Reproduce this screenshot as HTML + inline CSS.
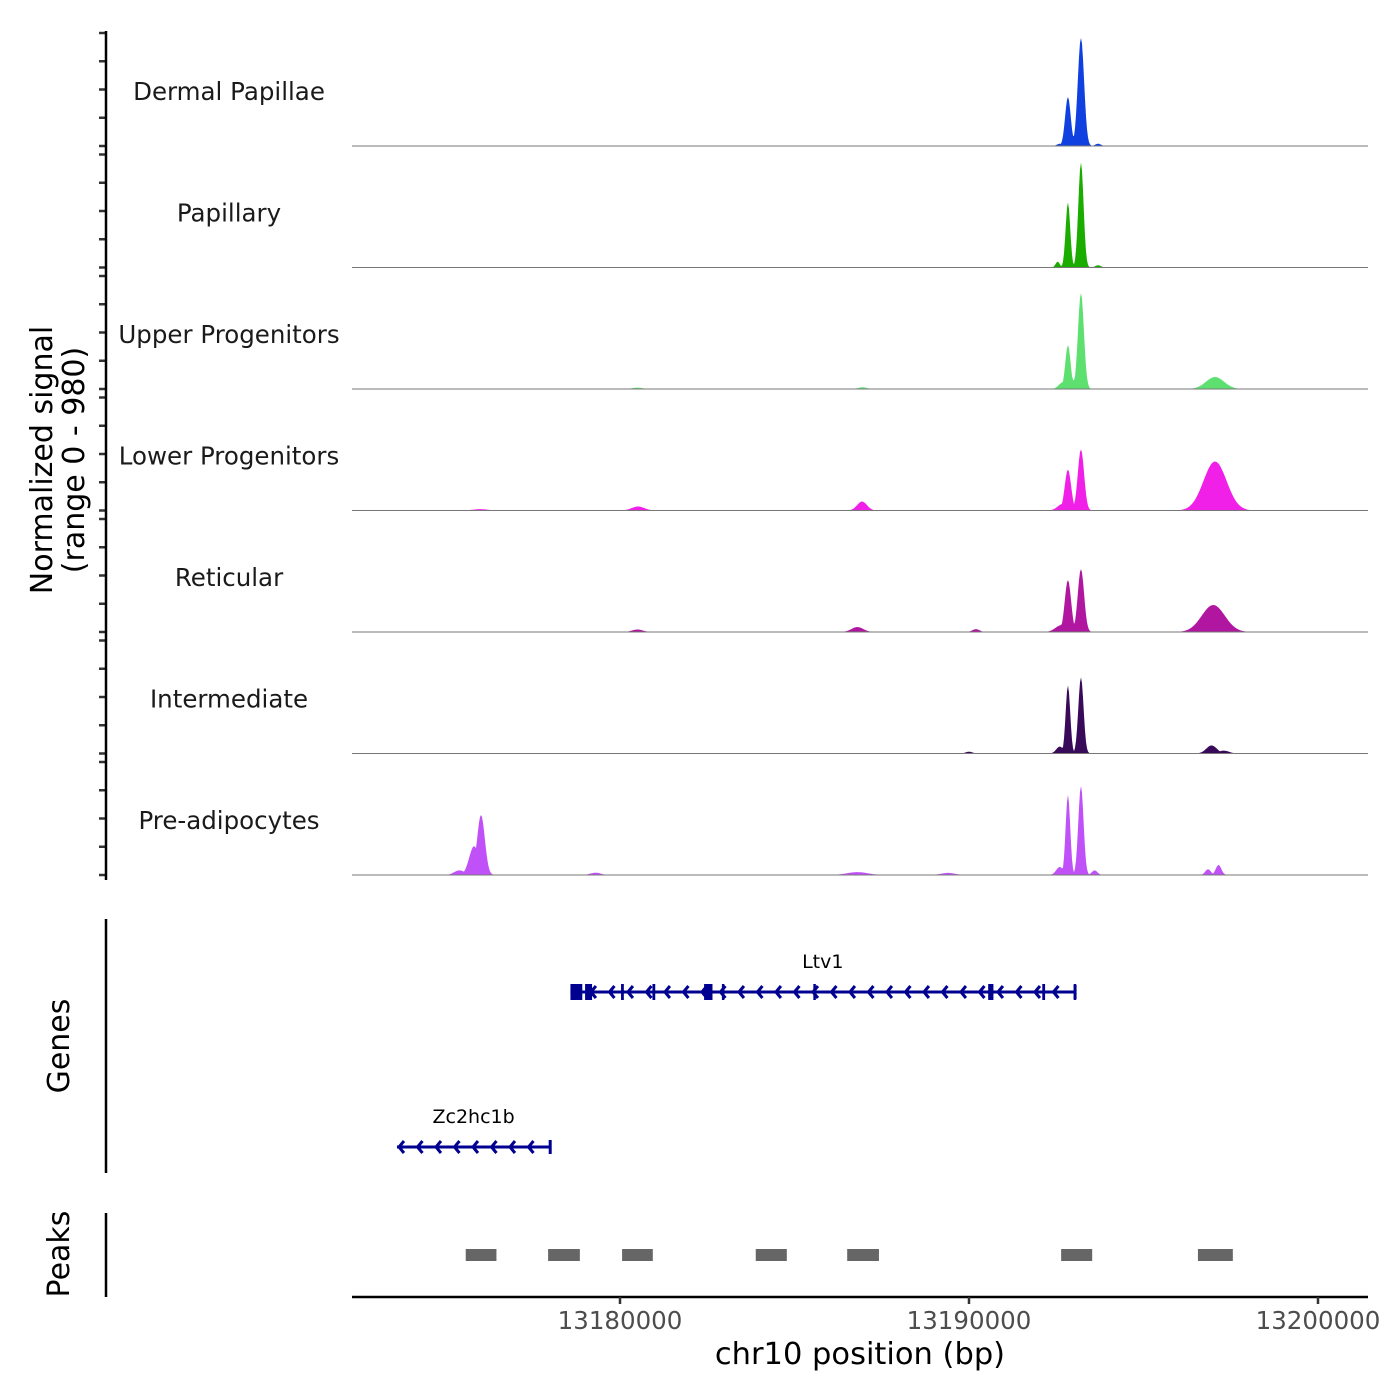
<!DOCTYPE html>
<html><head><meta charset="utf-8">
<style>
html,body{margin:0;padding:0;background:#fff;}
svg{display:block;font-family:"DejaVu Sans","Liberation Sans",sans-serif;}
</style></head>
<body>
<svg id="chart" width="1400" height="1400" viewBox="0 0 1400 1400" xmlns="http://www.w3.org/2000/svg"></svg>
<script>
// ---- data ----
const trackNames = ["Dermal Papillae","Papillary","Upper Progenitors","Lower Progenitors","Reticular","Intermediate","Pre-adipocytes"];
const trackColors = ["#1040e0","#1aad00","#5ee070","#f020e8","#b0169f","#3a0a5a","#c050f8"];
// peaks per track: [position bp, value, width bp]
const peaksDP = [[13192835,425,80],[13193208,937,90],[13192600,20,80],[13193700,20,80],[13192980,90,100]];
const peaksPap = [[13192835,564,65],[13193208,910,75],[13192540,50,60],[13193700,20,80]];
const peaksUpper = [[13192835,380,75],[13193208,832,85],[13192980,80,100],[13192700,60,120],[13197050,104,260],[13186950,15,120],[13180500,12,150]];
const peaksLower = [[13192835,355,90],[13193208,530,90],[13192700,60,150],[13197050,425,330],[13196700,140,200],[13186935,78,140],[13180516,35,180],[13176000,12,200]];
const peaksRet = [[13192835,450,90],[13193208,546,90],[13192650,60,170],[13197000,234,330],[13186800,43,170],[13180500,22,150],[13190200,25,100]];
const peaksInter = [[13192835,590,65],[13193208,660,75],[13192600,60,100],[13196950,70,150],[13197300,25,150],[13190000,15,100]];
const peaksPre = [[13192835,694,65],[13193208,772,75],[13192600,70,100],[13193600,40,80],[13176017,520,110],[13175820,250,140],[13175400,40,150],[13197150,87,80],[13196850,50,80],[13186800,25,300],[13189400,18,200],[13179300,20,150]];
const trackPeaks = [peaksDP,peaksPap,peaksUpper,peaksLower,peaksRet,peaksInter,peaksPre];
const xTicks = [13180000,13190000,13200000];
const yTickVals = [0,245,490,735,980];
const geneNames = ["Ltv1","Zc2hc1b"];
const geneStarts = [13178580,13173610];
const geneEnds = [13193040,13178000];
const geneRows = [0,1];
const ltv1Exons = [[13178580,13178920],[13179000,13179200],[13180030,13180110],[13180930,13181010],[13182410,13182650],[13182920,13182990],[13185540,13185580],[13190550,13190700],[13192100,13192180],[13193000,13193040]];
const peakStarts = [13175580,13177940,13180060,13183890,13186510,13192640,13196560];
const peakEnds = [13176460,13178850,13180940,13184780,13187420,13193530,13197560];
// ---- scales ----
const X0=352,X1=1368,BP0=13172321,BP1=13201433;
const xs = bp => X0 + (bp-BP0)/(BP1-BP0)*(X1-X0);
const baseY = i => 146 + 121.5*i;
const ys = (v,i) => baseY(i) - v/980*113;
const svg=document.getElementById('chart');
const NS="http://www.w3.org/2000/svg";
function mk(tag,attrs,parent){const e=document.createElementNS(NS,tag);for(const k in attrs)e.setAttribute(k,attrs[k]);(parent||svg).appendChild(e);return e;}
// tracks
trackNames.forEach((name,i)=>{
  const g=mk('g',{});
  
  
  const pts=[];
  for(let x=X0;x<=X1;x+=1){
    const bp=BP0+(x-X0)/(X1-X0)*(BP1-BP0);
    let v=0;
    trackPeaks[i].forEach(p=>{const d=(bp-p[0])/p[2];v=Math.max(v,p[1]*Math.exp(-0.5*d*d));});
    pts.push(x.toFixed(1)+','+ys(v,i).toFixed(1));
  }
  const area=mk('path',{d:'M'+X0+','+baseY(i)+' L'+pts.join(' L')+' L'+X1+','+baseY(i)+' Z',fill:trackColors[i]},g);
  
  
  const bl=mk('line',{x1:X0,x2:X1,y1:baseY(i),y2:baseY(i),stroke:'#777','stroke-width':1},g);
  
  
  const t=mk('text',{x:229,y:baseY(i)-46,'text-anchor':'middle','font-size':24.5,fill:'#1a1a1a'},g);
  t.textContent=name;
  
  
  yTickVals.forEach(v=>{
    const tk=mk('line',{x1:99,x2:106,y1:ys(v,i),y2:ys(v,i),stroke:'#333','stroke-width':2.5},g);
    
    
  });
});
// left axis lines
[[31,880,'signal-axis-line'],[919,1173,'genes-axis-line'],[1213,1297,'peaks-axis-line']].forEach(a=>{
  const l=mk('line',{x1:106,x2:106,y1:a[0],y2:a[1],stroke:'#000','stroke-width':2.5});
  
  
});
// genes
const gcol='#000091';
geneNames.forEach((n,gi)=>{
  const y=992+155*geneRows[gi];
  const g=mk('g',{});
  
  
  const x1=xs(geneStarts[gi]),x2=xs(geneEnds[gi]);
  mk('line',{x1:x1,x2:x2,y1:y,y2:y,stroke:gcol,'stroke-width':3},g);
  for(let x=x1+2;x<x2-4;x+=18.5){
    mk('polyline',{points:(x+5)+','+(y-6)+' '+x+','+y+' '+(x+5)+','+(y+6),fill:'none',stroke:gcol,'stroke-width':3},g);
  }
  mk('line',{x1:x2,x2:x2,y1:y-7,y2:y+7,stroke:gcol,'stroke-width':3},g);
  const t=mk('text',{x:(x1+x2)/2,y:y-24,'text-anchor':'middle','font-size':19,fill:'#000'},g);
  t.textContent=n;
  
  
  if(gi===0){
    ltv1Exons.forEach(e=>{
      const r=mk('rect',{x:xs(e[0]),y:y-8,width:Math.max(2.5,xs(e[1])-xs(e[0])),height:16,fill:gcol},g);
      
      
    });
  }
});
// peaks
peakStarts.forEach((s,i)=>{
  const r=mk('rect',{x:xs(s),y:1249,width:xs(peakEnds[i])-xs(s),height:12,fill:'#666'});
  
  
});
// x axis
const xa=mk('line',{x1:X0,x2:X1,y1:1297,y2:1297,stroke:'#000','stroke-width':2.5});


xTicks.forEach(v=>{
  const tk=mk('line',{x1:xs(v),x2:xs(v),y1:1297,y2:1304,stroke:'#333','stroke-width':2.5});
  
  
  const t=mk('text',{x:xs(v),y:1329,'text-anchor':'middle','font-size':24.5,fill:'#4d4d4d'});
  t.textContent=v;
  
  
});
const xt=mk('text',{x:860,y:1364,'text-anchor':'middle','font-size':30.5,fill:'#000'});
xt.textContent='chr10 position (bp)';


// y titles
const yt=mk('text',{transform:'translate(52,460) rotate(-90)','text-anchor':'middle','font-size':30,fill:'#000'});


const s1=mk('tspan',{x:0,dy:0},yt);s1.textContent='Normalized signal';
const s2=mk('tspan',{x:0,dy:32},yt);s2.textContent='(range 0 - 980)';
[['Genes',1046,'genes-axis-title'],['Peaks',1254,'peaks-axis-title']].forEach(a=>{
  const t=mk('text',{transform:'translate(69,'+a[1]+') rotate(-90)','text-anchor':'middle','font-size':30,fill:'#000'});
  t.textContent=a[0];
  
  
});
</script>
</body></html>
